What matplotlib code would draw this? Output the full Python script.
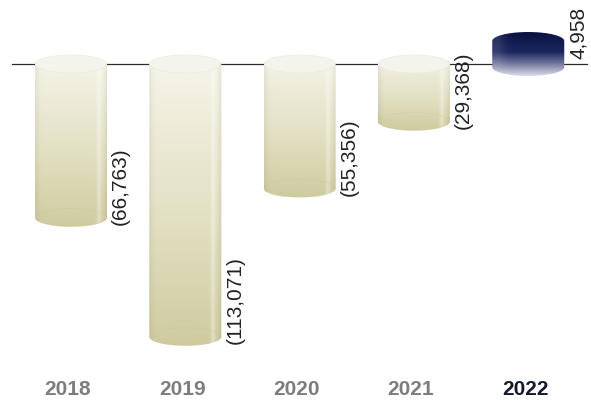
import numpy as np
import matplotlib
matplotlib.use("Agg")
import matplotlib.pyplot as plt
from matplotlib.path import Path
from matplotlib.patches import PathPatch, Ellipse
from matplotlib.colors import to_rgb

years = ["2018", "2019", "2020", "2021", "2022"]
values = [-66763, -113071, -55356, -29368, 4958]
labels = ["(66,763)", "(113,071)", "(55,356)", "(29,368)", "4,958"]

plt.rcParams['font.family'] = ['Liberation Sans', 'DejaVu Sans']

fig = plt.figure(figsize=(5.91, 4.05), dpi=100)
ax = fig.add_axes([0, 0, 1, 1])
ax.set_xlim(-0.621, 4.549)
ax.set_ylim(-132650, 24900)
ax.axis("off")

px = 389.0          # data units per pixel (vertical)
bar_w = 0.63
ry = 9 * px         # half height of the elliptical caps
min_len = 44 * px   # short positive bars get a visible minimum body
sink = 12 * px      # how far a positive bar dips under the baseline

beige_stops = [(0.0, "#f6f5ec"), (0.15, "#f1efdf"), (0.6, "#e1dec0"), (1.0, "#cfcb9f")]
navy_stops = [(0.0, "#0b1242"), (0.45, "#1c2560"), (0.7, "#6d7199"), (1.0, "#dcdce8")]


def gradient(stops, highlight=True, h=200, w=120):
    pos = [s[0] for s in stops]
    cols = np.array([to_rgb(s[1]) for s in stops])
    t = np.linspace(0, 1, h)
    col = np.stack([np.interp(t, pos, cols[:, k]) for k in range(3)], axis=1)
    img = np.repeat(col[:, None, :], w, axis=1)
    u = np.linspace(0, 1, w)
    if highlight:
        # soft left edge, bright strip near the right, darker rim
        shade = 1 - 0.05 * np.exp(-(u / 0.05) ** 2) - 0.07 * np.exp(-((u - 1) / 0.04) ** 2)
        light = 0.35 * np.exp(-((u - 0.88) / 0.03) ** 2)
    else:
        shade = np.ones_like(u)
        light = 0.12 * np.exp(-((u - 0.05) / 0.12) ** 2)
    img = img * shade[None, :, None]
    img = img + (1 - img) * light[None, :, None]
    return np.clip(img, 0, 1)


def silhouette(xc, y_top, y_bot):
    # cylinder outline: upper half of top ellipse, sides, lower half of bottom ellipse
    a = bar_w / 2
    t1 = np.linspace(0, np.pi, 60)
    t2 = np.linspace(np.pi, 2 * np.pi, 60)
    top = np.column_stack([xc + a * np.cos(t1), y_top - ry + ry * np.sin(t1)])
    bot = np.column_stack([xc + a * np.cos(t2), y_bot + ry + ry * np.sin(t2)])
    verts = np.vstack([top, bot, top[:1]])
    codes = [Path.MOVETO] + [Path.LINETO] * (len(verts) - 2) + [Path.CLOSEPOLY]
    return Path(verts, codes)


ax.plot([-0.516, 4.514], [0, 0], color="#2b2b2b", lw=0.9, zorder=1)

for i, (v, lab) in enumerate(zip(values, labels)):
    if v < 0:
        y_top, y_bot = ry, v + ry
        img = gradient(beige_stops)
    else:
        y_bot = -sink
        y_top = y_bot + max(v, min_len)
        img = gradient(navy_stops, highlight=False)
    patch = PathPatch(silhouette(i, y_top, y_bot), fc="none", ec="none",
                      transform=ax.transData)
    ax.add_patch(patch)
    im = ax.imshow(img, extent=[i - bar_w / 2, i + bar_w / 2, y_bot, y_top],
                   aspect="auto", origin="upper", interpolation="bilinear", zorder=2)
    im.set_clip_path(patch)
    if v < 0:
        # pale top cap and a faint rim on the bottom cap
        ax.add_patch(Ellipse((i, 0), bar_w * 0.985, 2 * ry, fc="#f5f4ec",
                             ec="#ebe9df", lw=0.4, zorder=3))
        ax.add_patch(Ellipse((i, y_bot + ry), bar_w * 0.99, 2 * ry, fc="none",
                             ec="#c7c39a", lw=0.4, alpha=0.5, zorder=3))
        ax.text(i + bar_w / 2 + 4 / 114.3, y_bot + 1.5 * px, lab, rotation=90,
                ha="left", va="bottom", fontsize=15, color="#222222")
    else:
        ax.text(i + bar_w / 2 + 5 / 114.3, 5 * px, lab, rotation=90,
                ha="left", va="bottom", fontsize=15, color="#222222")

for i, yr in enumerate(years):
    last = i == len(years) - 1
    ax.text(i - 3 / 114.3, -126800, yr, ha="center", va="center", fontsize=15,
            fontweight="bold", color="#15192e" if last else "#7d7d7f")

fig.savefig("out.png", dpi=100)
